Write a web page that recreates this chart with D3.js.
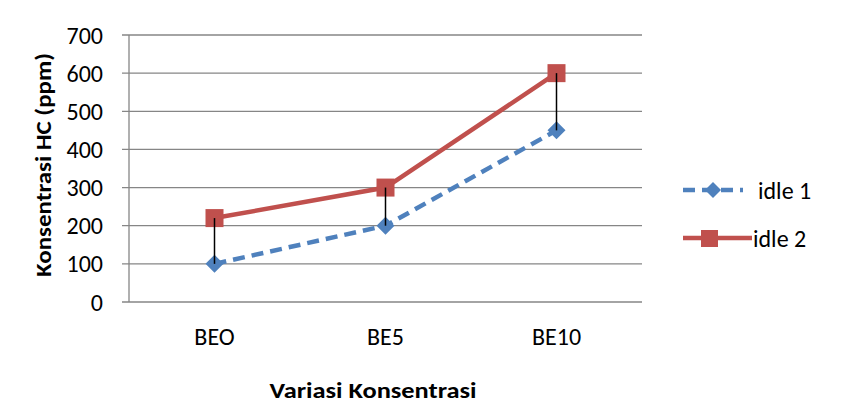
<!DOCTYPE html>
<html><head><meta charset="utf-8">
<script src="https://cdn.jsdelivr.net/npm/d3@7"></script>
<style>body{margin:0;background:#fff}svg{display:block;font-family:Carlito,Calibri,Lato,"Open Sans",sans-serif}</style>
</head><body><svg id="c" width="846" height="417"></svg>
<script>
const categories = ["BEO","BE5","BE10"];
const idle1 = [100,200,450];
const idle2 = [220,300,600];
const yTicks = [0,100,200,300,400,500,600,700];
const seriesNames = ["idle 1","idle 2"];

const svg = d3.select("#c");
const L=129,R=642,T=35,B=302;
const x = d3.scaleBand().domain(categories).range([L,R]);
const y = d3.scaleLinear().domain([0,700]).range([B,T]);
const cx = c => x(c)+x.bandwidth()/2;
const FS = 24;

// gridlines
svg.append("g").selectAll("line").data(yTicks).join("line")
  .attr("x1",L-7).attr("x2",R).attr("y1",d=>y(d)).attr("y2",d=>y(d))
  .attr("stroke","#868686").attr("stroke-width",1.3);
svg.append("line").attr("x1",L).attr("x2",L).attr("y1",T).attr("y2",B)
  .attr("stroke","#868686").attr("stroke-width",1.3);

// y tick labels
svg.append("g").selectAll("text").data(yTicks).join("text")
  .attr("x",103).attr("y",d=>y(d)).attr("dy","0.36em").attr("text-anchor","end")
  .attr("font-size",FS).attr("fill","#000").text(d=>d);
// x tick labels
svg.append("g").selectAll("text").data(categories).join("text")
  .attr("x",d=>cx(d)).attr("y",336).attr("dy","0.36em").attr("text-anchor","middle")
  .attr("font-size",FS).attr("fill","#000").text(d=>d);

// titles
svg.append("text").attr("x",373).attr("y",390).attr("dy","0.36em").attr("text-anchor","middle")
  .attr("font-size",22).attr("font-weight","bold")
  .attr("textLength",207).attr("lengthAdjust","spacingAndGlyphs").text("Variasi Konsentrasi");
svg.append("text").attr("transform","translate(43,165) rotate(-90)").attr("dy","0.36em")
  .attr("text-anchor","middle").attr("font-size",22).attr("font-weight","bold")
  .attr("textLength",224).attr("lengthAdjust","spacingAndGlyphs").text("Konsentrasi HC (ppm)");

const line = d3.line().x((d,i)=>cx(categories[i])).y(d=>y(d));
// lines
svg.append("path").datum(idle1).attr("d",line).attr("fill","none")
  .attr("stroke","#4F81BD").attr("stroke-width",4.5).attr("stroke-dasharray","12,7");
svg.append("path").datum(idle2).attr("d",line).attr("fill","none")
  .attr("stroke","#C0504D").attr("stroke-width",4.5);

// markers
const diamond = (g,px,py,s)=> g.append("path")
  .attr("d",`M${px},${py-s}L${px+s},${py}L${px},${py+s}L${px-s},${py}Z`).attr("fill","#4F81BD");
idle1.forEach((v,i)=>diamond(svg,cx(categories[i]),y(v),9));
svg.append("g").selectAll("rect").data(idle2).join("rect")
  .attr("x",(d,i)=>cx(categories[i])-9).attr("y",d=>y(d)-9).attr("width",18).attr("height",18)
  .attr("fill","#C0504D");

// high-low lines
svg.append("g").selectAll("line").data(categories).join("line")
  .attr("x1",d=>cx(d)).attr("x2",d=>cx(d))
  .attr("y1",(d,i)=>y(idle2[i])).attr("y2",(d,i)=>y(idle1[i]))
  .attr("stroke","#000").attr("stroke-width",1.5);

// legend
const lg = svg.append("g");
const ly=[190,238];
lg.append("line").attr("x1",683).attr("x2",743).attr("y1",ly[0]).attr("y2",ly[0])
  .attr("stroke","#4F81BD").attr("stroke-width",4.5).attr("stroke-dasharray","12,7");
diamond(lg,713,ly[0],8);
lg.append("line").attr("x1",683).attr("x2",752).attr("y1",ly[1]).attr("y2",ly[1])
  .attr("stroke","#C0504D").attr("stroke-width",4.5);
lg.append("rect").attr("x",710-9).attr("y",ly[1]-8).attr("width",17).attr("height",17).attr("fill","#C0504D");
lg.selectAll("text").data(seriesNames).join("text")
  .attr("x",(d,i)=>i===0?758:753).attr("y",(d,i)=>ly[i]).attr("dy","0.36em")
  .attr("font-size",FS).text(d=>d);
</script></body></html>
